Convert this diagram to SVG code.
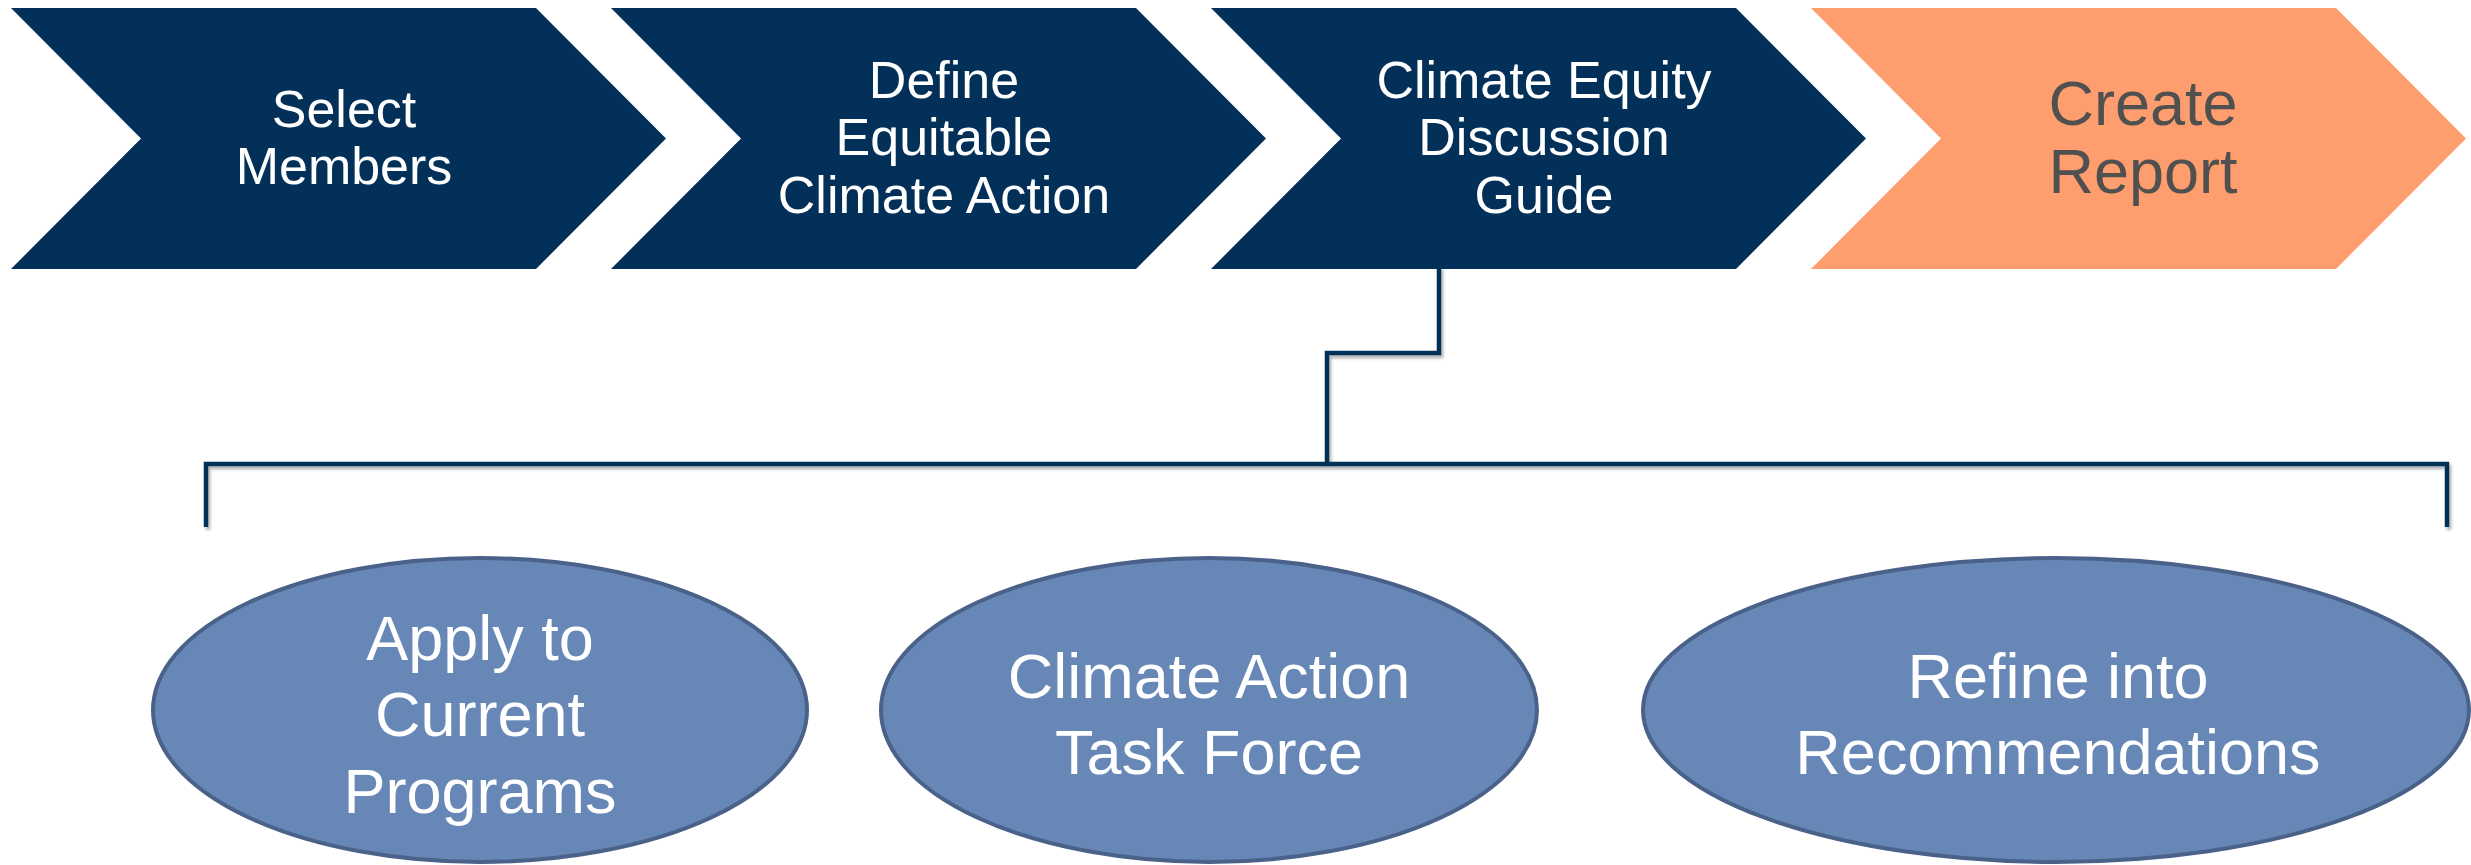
<svg xmlns="http://www.w3.org/2000/svg" width="2471" height="865" viewBox="0 0 2471 865">
<style>
.nav{fill:#033059}
.org{fill:#FE9D6D}
.ell{fill:#6787B7;stroke:#4A6189;stroke-width:4}
.t{font-family:"Liberation Sans",Arial,sans-serif;text-anchor:middle;fill:#FFFFFF}
.ts{font-size:52px}
.tr{font-size:63px;fill:#505050}
.te{font-size:63px}
.conn{fill:none;stroke:#033059;stroke-width:4.5;stroke-linejoin:miter;stroke-linecap:butt}
</style>
<defs>
<filter id="sh" x="-5%" y="-5%" width="110%" height="120%">
<feDropShadow dx="2" dy="3" stdDeviation="1.5" flood-color="#000" flood-opacity="0.3"/>
</filter>
</defs>
<rect width="2471" height="865" fill="#FFFFFF"/>
<g id="chevron-select">
<polygon class="nav" points="11,8 536,8 666,138.5 536,269 11,269 141,138.5"/>
<text class="t ts" x="344"><tspan x="344" y="127">Select</tspan><tspan x="344" y="184">Members</tspan></text>
</g>
<g id="chevron-define">
<polygon class="nav" points="611,8 1136,8 1266,138.5 1136,269 611,269 741,138.5"/>
<text class="t ts"><tspan x="944" y="98">Define</tspan><tspan x="944" y="155">Equitable</tspan><tspan x="944" y="213">Climate Action</tspan></text>
</g>
<g id="chevron-guide">
<polygon class="nav" points="1211,8 1736,8 1866,138.5 1736,269 1211,269 1341,138.5"/>
<text class="t ts"><tspan x="1544" y="98">Climate Equity</tspan><tspan x="1544" y="155">Discussion</tspan><tspan x="1544" y="213">Guide</tspan></text>
</g>
<g id="chevron-report">
<polygon class="org" points="1811,8 2336,8 2466,138.5 2336,269 1811,269 1941,138.5"/>
<text class="t tr"><tspan x="2143" y="125">Create</tspan><tspan x="2143" y="193">Report</tspan></text>
</g>
<g id="connectors" filter="url(#sh)">
<path class="conn" d="M1439,266 V353 H1327 V464"/>
<path class="conn" d="M206,527 V464 H2447 V527"/>
</g>
<g id="ellipse-apply">
<ellipse class="ell" cx="480" cy="710" rx="327" ry="152"/>
<text class="t te"><tspan x="480" y="660">Apply to</tspan><tspan x="480" y="736">Current</tspan><tspan x="480" y="813">Programs</tspan></text>
</g>
<g id="ellipse-taskforce">
<ellipse class="ell" cx="1209" cy="710" rx="328" ry="152"/>
<text class="t te"><tspan x="1209" y="698">Climate Action</tspan><tspan x="1209" y="774">Task Force</tspan></text>
</g>
<g id="ellipse-refine">
<ellipse class="ell" cx="2056" cy="710" rx="413" ry="152"/>
<text class="t te"><tspan x="2058" y="698">Refine into</tspan><tspan x="2058" y="774">Recommendations</tspan></text>
</g>
</svg>
